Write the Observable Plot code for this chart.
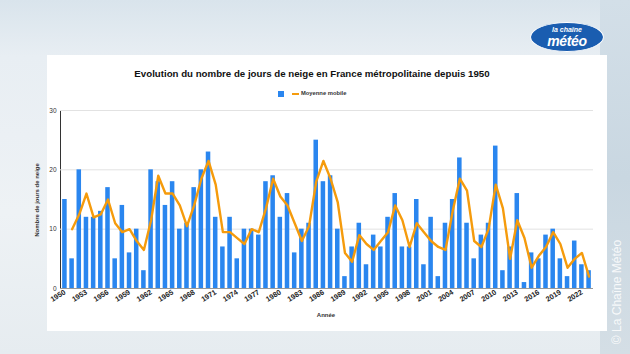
<!DOCTYPE html>
<html>
<head>
<meta charset="utf-8">
<script src="https://cdn.jsdelivr.net/npm/d3@7"></script>
<script src="https://cdn.jsdelivr.net/npm/@observablehq/plot@0.6"></script>
<style>
  body { margin: 0; }
  #wrap { position: relative; width: 630px; height: 354px; overflow: hidden;
    font-family: "Liberation Sans", Arial, sans-serif;
    background: linear-gradient(180deg, #d9e4ec 0%, #e8eef3 16%, #eef2f5 60%, #e6ecf0 100%); }
  #rightbg { position: absolute; left: 600px; top: 0; width: 30px; height: 354px;
    background: linear-gradient(180deg, #d3dfe8 0%, #c9d7e1 50%, #d4dee5 100%); }
  #card { position: absolute; left: 47px; top: 55px; width: 560px; height: 276px; background: #fff; }
  #title { position: absolute; left: 12px; width: 600px; top: 68px; text-align: center;
    font-weight: bold; font-size: 9.7px; color: #111; }
  #legend { position: absolute; left: 278px; top: 90px; height: 8px; font-size: 5.8px; font-weight: bold; color: #333; }
  #chart { position: absolute; left: 0; top: 0; }
  #ylabel { position: absolute; left: 37px; top: 200px; transform: translate(-50%, -50%) rotate(-90deg);
    white-space: nowrap; font-size: 6px; font-weight: bold; color: #333; }
  #xlabel { position: absolute; left: 326px; top: 312px; transform: translateX(-50%);
    font-size: 6px; font-weight: bold; color: #333; }
  #logo { position: absolute; left: 530px; top: 22px; width: 74px; height: 30px; border-radius: 50%;
    background: #1a5db0; border: 1.5px solid #fff; box-sizing: border-box; color: #fff; text-align: center; }
  #watermark { position: absolute; left: 617px; top: 292px; transform: translate(-50%, -50%) rotate(-90deg);
    white-space: nowrap; font-size: 12px; color: rgba(255,255,255,0.85); }
</style>
</head>
<body>
<div id="wrap">
  <div id="rightbg"></div>
  <div id="card"></div>
  <div id="title">Evolution du nombre de jours de neige en France métropolitaine depuis 1950</div>
  <div id="legend">
    <span style="position:absolute;left:0;top:1px;width:5.5px;height:5.5px;background:#2a86ef"></span>
    <span style="position:absolute;left:14px;top:3.3px;width:7px;height:2px;background:#f59b0c"></span>
    <span style="position:absolute;left:23px;top:0px;white-space:nowrap">Moyenne mobile</span>
  </div>
  <div id="chart"></div>
  <div id="ylabel">Nombre de jours de neige</div>
  <div id="xlabel">Année</div>
  <div id="logo">
    <div style="font-size:7px;font-style:italic;font-weight:bold;line-height:8px;margin-top:3px">la chaîne</div>
    <div style="font-size:14px;font-style:italic;font-weight:bold;line-height:14px;letter-spacing:-0.3px">météo</div>
  </div>
  <div id="watermark">© La Chaîne Météo</div>
</div>
<script>
const years = [1950,1951,1952,1953,1954,1955,1956,1957,1958,1959,
  1960,1961,1962,1963,1964,1965,1966,1967,1968,1969,
  1970,1971,1972,1973,1974,1975,1976,1977,1978,1979,
  1980,1981,1982,1983,1984,1985,1986,1987,1988,1989,
  1990,1991,1992,1993,1994,1995,1996,1997,1998,1999,
  2000,2001,2002,2003,2004,2005,2006,2007,2008,2009,
  2010,2011,2012,2013,2014,2015,2016,2017,2018,2019,
  2020,2021,2022,2023];
const snowDays = [15,5,20,12,12,13,17,5,14,6,
  10,3,20,18,14,18,10,11,17,20,
  23,12,7,12,5,10,10,9,18,19,
  12,16,6,10,11,25,18,19,10,2,
  7,11,4,9,7,12,16,7,7,15,
  4,12,2,11,15,22,11,5,9,11,
  24,3,7,16,1,6,5,9,10,5,
  2,8,4,3];
// moving average series (from 1951), as read on the chart
const maYears = years.slice(1);
const movingAvg = [10,12.5,16,12,12.5,15,11,9.5,10,
  8,6.5,11.5,19,16,16,14,10.5,14,18.5,
  21.5,17.5,9.5,9.5,8.5,7.5,10,9.5,13.5,18.5,
  15.5,14,11,8,10.5,18,21.5,18.5,14.5,6,
  4.5,9,7.5,6.5,8,9.5,14,11.5,7,11,
  9.5,8,7,6.5,13,18.5,16.5,8,7,10,
  17.5,13.5,5,11.5,8.5,3.5,5.5,7,9.5,7.5,
  3.5,5,6,2];
const xTicks = [1950,1953,1956,1959,1962,1965,1968,1971,1974,1977,1980,1983,1986,1989,1992,1995,1998,2001,2004,2007,2010,2013,2016,2019,2022];
const yTicks = [0,10,20,30];

const bars = years.map((y, i) => ({year: y, value: snowDays[i]}));
const ma = maYears.map((y, i) => ({year: y, value: movingAvg[i]}));

const chart = Plot.plot({
  width: 630, height: 354,
  marginLeft: 60, marginRight: 37, marginTop: 110, marginBottom: 66,
  style: {background: "transparent", fontFamily: "'Liberation Sans', Arial, sans-serif", fontSize: "6.5px", color: "#333", overflow: "visible"},
  x: {type: "band", domain: years, round: false, paddingInner: 0.37, paddingOuter: 0.3, label: null, ticks: xTicks,
      tickFormat: d => `${d}`, tickRotate: -32, tickSize: 0, tickPadding: 3},
  y: {domain: [0, 30], ticks: yTicks, label: null, tickSize: 0, tickPadding: 4, line: true},
  marks: [
    Plot.ruleY(yTicks.slice(1), {stroke: "#e2e2e2", strokeWidth: 1}),
    Plot.barY(bars, {x: "year", y: "value", fill: "#2a86ef"}),
    Plot.ruleY([0], {stroke: "#999", strokeWidth: 1}),
    Plot.line(ma, {x: "year", y: "value", stroke: "#f59b0c", strokeWidth: 2.4, strokeLinejoin: "round"})
  ]
});
chart.querySelectorAll("[aria-label='x-axis tick label'] text, g[aria-label='x-axis'] text").forEach(t => {
  t.setAttribute("font-size", "7.3px");
  t.setAttribute("font-weight", "bold");
  t.setAttribute("fill", "#222");
});
document.getElementById("chart").appendChild(chart);
</script>
</body>
</html>
